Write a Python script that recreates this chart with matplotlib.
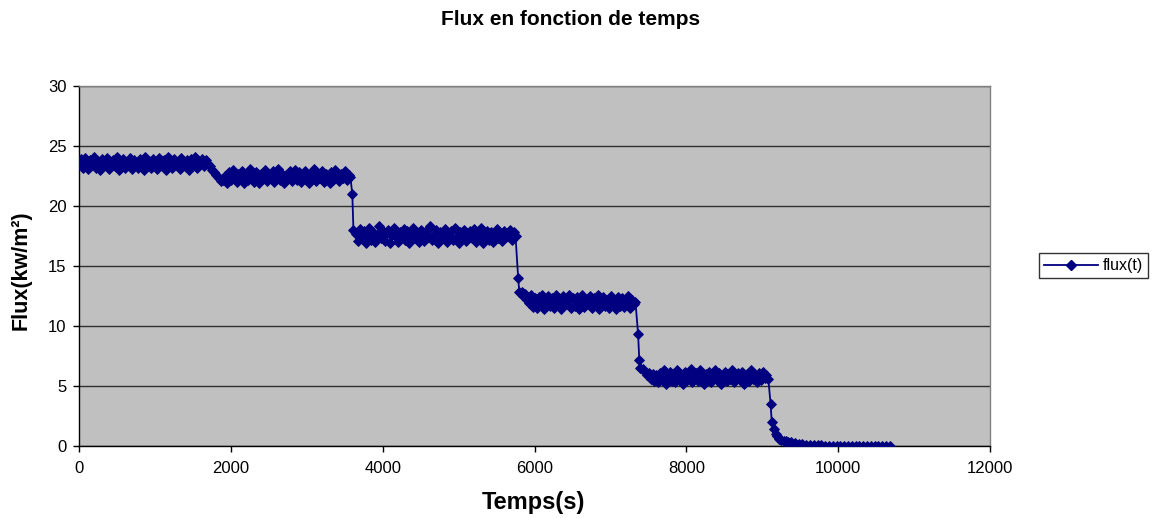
import numpy as np
import matplotlib
matplotlib.use("Agg")
import matplotlib.pyplot as plt
from matplotlib.lines import Line2D

plt.rcParams['font.family'] = ['Liberation Sans', 'DejaVu Sans']

STEP = 25       # sampling interval of the plateau readings (s)
TAIL_STEP = 50  # sampling interval of the final readings (s)

# Plateau ~23.5, transition, plateau ~22.4 (starts at t = 0)
flux_a = [23.6, 23.9, 23.2, 24.0, 23.4, 23.1, 23.8, 23.5, 24.1, 23.2, 23.7, 23.0, 23.9, 23.4, 23.6, 24.0, 23.1, 23.5, 23.8, 23.3,
          24.1, 23.0, 23.6, 23.9, 23.2, 23.7, 23.4, 24.0, 23.1, 23.8, 23.5, 23.2, 23.9, 23.6, 23.0, 24.1, 23.4, 23.7, 23.2, 23.9,
          23.5, 23.1, 24.0, 23.6, 23.3, 23.8, 23.0, 24.1, 23.5, 23.2, 23.9, 23.4, 23.7, 23.1, 24.0, 23.6, 23.3, 23.8, 23.0, 23.9,
          23.4, 24.1, 23.2, 23.7, 23.5, 23.9, 23.3, 23.8,
          23.5, 23.3, 23.0, 22.8, 22.6, 22.4, 22.3, 22.1, 22.2,
          22.5, 21.9, 22.8, 22.2, 23.0, 22.4, 22.0, 22.7, 22.3, 22.9, 21.9, 22.6, 22.2, 23.1, 22.4, 22.0, 22.8, 22.5, 21.9, 22.7,
          22.3, 23.0, 22.1, 22.6, 22.4, 22.9, 22.0, 22.5, 23.1, 22.2, 22.7, 21.9, 22.6, 22.3, 22.9, 22.1, 22.5, 23.0, 22.2, 22.8,
          22.0, 22.4, 22.9, 22.3, 21.9, 22.7, 22.5, 23.1, 22.1, 22.6, 22.3, 22.9, 22.0, 22.7, 22.4, 21.9, 22.8, 22.2, 23.0, 22.5,
          22.1, 22.7, 22.3, 22.9, 22.2, 22.6, 22.4]
start_a = 0

drop_1_t = [3600, 3615]
drop_1_f = [21.0, 18.0]

# Plateau ~17.6
flux_b = [17.7, 17.1, 18.1, 17.4, 17.9, 16.9, 17.6, 18.2, 17.2, 17.8, 17.0, 17.5, 18.3, 17.3, 17.9, 17.1, 17.7, 18.0, 16.9, 17.6,
          18.2, 17.4, 17.0, 17.8, 17.5, 18.1, 17.2, 17.9, 16.9, 17.6, 18.2, 17.3, 17.7, 17.0, 18.0, 17.5, 17.1, 17.9, 17.4, 18.3,
          17.2, 17.6, 18.0, 16.9, 17.8, 17.3, 17.7, 18.1, 17.0, 17.5, 17.9, 17.2, 18.2, 17.4, 16.9, 17.8, 17.6, 18.0, 17.1, 17.5,
          17.9, 17.3, 18.1, 17.0, 17.7, 17.4, 18.2, 16.9, 17.6, 17.9, 17.2, 17.8, 17.0, 17.5, 18.1, 17.3, 17.7, 17.1, 17.9, 17.4,
          17.6, 18.0, 17.2, 17.8, 17.5]
start_b = 3650

drop_2_t = [5785, 5800]
drop_2_f = [14.0, 12.8]

# Plateau ~12
flux_c = [12.8, 12.5, 12.7, 12.2, 11.9, 12.6, 11.6, 12.3, 11.5, 12.4, 11.8, 12.6, 11.4, 12.1, 12.5, 11.7, 12.3, 11.5, 12.6, 11.9,
          12.2, 11.4, 12.5, 11.8, 12.0, 12.6, 11.5, 12.3, 11.7, 12.4, 11.4, 12.1, 12.6, 11.6, 12.2, 11.9, 12.5, 11.5, 12.3, 11.8,
          12.6, 11.4, 12.0, 12.4, 11.7, 12.2, 11.5, 12.5, 11.9, 12.1, 11.4, 12.4, 11.7, 12.3, 11.6, 12.0, 12.5, 11.5, 12.2, 11.8,
          12.0]
start_c = 5830

drop_3_t = [7365, 7380, 7395]
drop_3_f = [9.3, 7.2, 6.5]

# Plateau ~5.8
flux_d = [6.4, 6.2, 5.9, 6.1, 5.6, 6.0, 5.4, 5.9, 5.3, 6.1, 5.5, 6.3, 5.2, 5.8, 6.2, 5.4, 6.0, 5.3, 6.3, 5.6,
          5.9, 5.2, 6.2, 5.5, 6.0, 6.4, 5.3, 5.8, 6.1, 5.4, 6.3, 5.6, 5.2, 6.0, 5.7, 6.2, 5.3, 5.9, 6.3, 5.5,
          6.1, 5.2, 5.8, 6.2, 5.4, 6.0, 5.6, 6.3, 5.3, 5.9, 6.1, 5.5, 6.2, 5.2, 5.8, 6.0, 5.4, 6.3, 5.6, 5.9,
          5.3, 6.1, 5.5, 6.2, 5.7, 5.9, 5.6]
start_d = 7430

drop_4_t = [9110, 9125, 9150, 9175, 9200, 9225, 9250, 9280, 9310, 9340, 9380, 9430, 9480, 9530, 9580]
drop_4_f = [3.5, 2.0, 1.4, 1.0, 0.8, 0.6, 0.5, 0.45, 0.4, 0.35, 0.3, 0.25, 0.2, 0.15, 0.1]

# Final tail ~0
flux_e = [0.08, 0.06, 0.05, 0.05, 0.04, 0.03, 0.03, 0.02, 0.02, 0.02, 0.01,
          0.01, 0.01, 0.01, 0.0, 0.0, 0.0, 0.0, 0.0, 0.0, 0.0, 0.0]
start_e = 9630


def plateau_times(start, vals, step=STEP):
    return list(start + step * np.arange(len(vals)))


temps = (plateau_times(start_a, flux_a) + drop_1_t + plateau_times(start_b, flux_b)
         + drop_2_t + plateau_times(start_c, flux_c) + drop_3_t
         + plateau_times(start_d, flux_d) + drop_4_t
         + plateau_times(start_e, flux_e, TAIL_STEP))
flux = flux_a + drop_1_f + flux_b + drop_2_f + flux_c + drop_3_f + flux_d + drop_4_f + flux_e

fig = plt.figure(figsize=(11.52, 5.18), dpi=100)
ax = fig.add_axes([79 / 1152, 72 / 518, 911 / 1152, 360 / 518])
ax.set_facecolor('#C0C0C0')

navy = '#000080'
ax.plot(temps, flux, color=navy, lw=1.3, marker='D', ms=5.5,
        markeredgewidth=0.6, markeredgecolor=navy, markerfacecolor=navy, zorder=3)

ax.set_xlim(0, 12000)
ax.set_ylim(0, 30)
ax.set_xticks([0, 2000, 4000, 6000, 8000, 10000, 12000])
ax.set_yticks([0, 5, 10, 15, 20, 25, 30])
ax.yaxis.grid(True, color='#303030', lw=1.0)
ax.set_axisbelow(True)

ax.tick_params(axis='both', direction='out', length=4, width=1, labelsize=12, color='black')
ax.tick_params(axis='x', pad=7)
ax.tick_params(axis='y', pad=5)
for s in ['left', 'bottom']:
    ax.spines[s].set_color('black')
    ax.spines[s].set_linewidth(1.0)
for s in ['top', 'right']:
    ax.spines[s].set_color('#808080')
    ax.spines[s].set_linewidth(1.0)

fig.text(0.495, 0.963, 'Flux en fonction de temps', ha='center', va='center',
         fontsize=15, fontweight='bold')
fig.text(0.463, 0.029, 'Temps(s)', ha='center', va='center', fontsize=17, fontweight='bold')
fig.text(0.018, 0.478, 'Flux(kw/m²)', ha='center', va='center', rotation=90,
         fontsize=15.5, fontweight='bold')

handle = Line2D([], [], color=navy, lw=1.3, marker='D', ms=5.5, markerfacecolor=navy)
leg = fig.legend([handle], ['flux(t)'], loc='center', bbox_to_anchor=(0.949, 0.487),
                 fontsize=11.5, frameon=True, fancybox=False, edgecolor='black',
                 handlelength=3.4, borderpad=0.3, handletextpad=0.3)
leg.get_frame().set_linewidth(1.0)

fig.savefig('out.png', dpi=100, facecolor='white')
